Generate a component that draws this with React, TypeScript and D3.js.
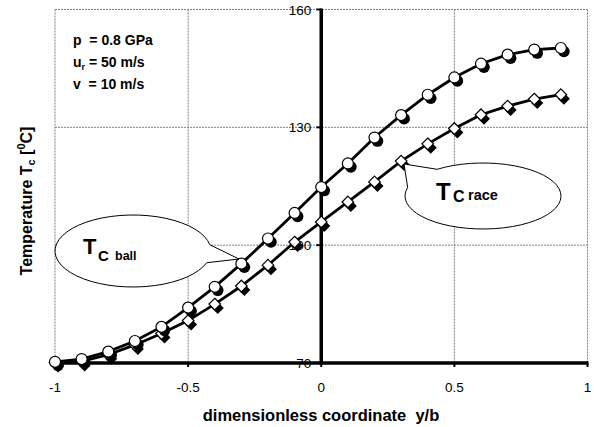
import * as React from 'react'
import * as d3 from 'd3'

const width = 594
const height = 427
const font = "'Liberation Sans', Arial, sans-serif"

// dimensionless coordinate y/b
const coords = [-1, -0.9, -0.8, -0.7, -0.6, -0.5, -0.4, -0.3, -0.2, -0.1, 0, 0.1, 0.2, 0.3, 0.4, 0.5, 0.6, 0.7, 0.8, 0.9]
// temperature of the ball
const tBall = [70.3, 71.0, 72.9, 75.6, 79.2, 84.1, 89.4, 95.3, 101.7, 108.2, 114.8, 120.8, 127.4, 133.1, 138.3, 142.7, 146.2, 148.5, 149.8, 150.2]
// temperature of the race
const tRace = [70.1, 70.4, 72.1, 74.6, 77.5, 80.8, 85.0, 89.6, 94.9, 100.8, 105.9, 111.0, 116.1, 121.4, 125.8, 129.7, 133.2, 135.4, 137.2, 138.3]

const xTicks = [-1, -0.5, 0, 0.5, 1]
const yTicks = [70, 100, 130, 160]

const xScale = d3.scaleLinear().domain([-1, 1]).range([55, 587.5])
const yScale = d3.scaleLinear().domain([70, 160]).range([363, 9.5])

const line = d3
  .line<number>()
  .x((_, i) => xScale(coords[i]))
  .y(d => yScale(d))

const diamond = (s: number) => `M0,${-s}L${s},0L0,${s}L${-s},0Z`

// callout: ellipse with a wedge pointing at tip
const callout = (cx: number, cy: number, rx: number, ry: number, a1: number, a2: number, tip: [number, number]) => {
  const p = (a: number) => [cx + rx * Math.cos((a * Math.PI) / 180), cy + ry * Math.sin((a * Math.PI) / 180)]
  const A = p(a1)
  const B = p(a2)
  return `M${A[0]},${A[1]}A${rx},${ry} 0 1 1 ${B[0]},${B[1]}L${tip[0]},${tip[1]}Z`
}

const Markers = ({ values, kind }: { values: number[]; kind: 'circle' | 'diamond' }) => (
  <g>
    {values.map((v, i) => {
      const x = xScale(coords[i])
      const y = yScale(v)
      return kind === 'circle' ? (
        <g key={i}>
          <circle cx={x + 3} cy={y + 3.5} r={5.8} fill="#000" />
          <circle cx={x} cy={y} r={5.5} fill="#fff" stroke="#000" strokeWidth={1.2} />
        </g>
      ) : (
        <g key={i}>
          <path d={diamond(6)} transform={`translate(${x + 3},${y + 4})`} fill="#000" />
          <path d={diamond(5.8)} transform={`translate(${x},${y})`} fill="#fff" stroke="#000" strokeWidth={1.2} />
        </g>
      )
    })}
  </g>
)

const App = () => {
  const x0 = xScale(0)
  const yBase = yScale(70)
  return (
    <svg width={width} height={height} style={{ position: 'absolute', left: 0, top: 0, background: '#fff' }} fontFamily={font}>
      <rect width={width} height={height} fill="#fff" />
      {/* grid */}
      <g stroke="#808080" strokeWidth={1} strokeDasharray="2,1">
        {xTicks.filter(t => t !== 0).map(t => (
          <line key={t} x1={xScale(t)} x2={xScale(t)} y1={yScale(160)} y2={yBase} />
        ))}
        {yTicks.filter(t => t !== 70).map(t => (
          <line key={t} x1={xScale(-1)} x2={xScale(1)} y1={yScale(t)} y2={yScale(t)} />
        ))}
      </g>
      {/* axes */}
      <line x1={xScale(-1)} x2={xScale(1) + 1} y1={yBase} y2={yBase} stroke="#000" strokeWidth={3.5} />
      <line x1={x0} x2={x0} y1={yScale(160) - 1} y2={yBase + 2} stroke="#000" strokeWidth={3.5} />
      {xTicks.map(t => (
        <line key={t} x1={xScale(t)} x2={xScale(t)} y1={yBase} y2={yBase + 4} stroke="#000" strokeWidth={2} />
      ))}
      {yTicks.map(t => (
        <line key={t} x1={x0 - 5} x2={x0} y1={yScale(t)} y2={yScale(t)} stroke="#000" strokeWidth={2} />
      ))}
      {/* tick labels */}
      <g fontSize={13.5} fill="#000">
        {xTicks.map(t => (
          <text key={t} x={xScale(t)} y={392} textAnchor="middle">
            {String(t)}
          </text>
        ))}
        {yTicks.map(t => (
          <text key={t} x={x0 - 10} y={yScale(t) + 5} textAnchor="end">
            {t}
          </text>
        ))}
      </g>
      {/* series */}
      <path d={line(tRace) ?? ''} fill="none" stroke="#000" strokeWidth={2.8} />
      <Markers values={tRace} kind="diamond" />
      <path d={line(tBall) ?? ''} fill="none" stroke="#000" strokeWidth={2.8} />
      <Markers values={tBall} kind="circle" />
      {/* callouts */}
      <path d={callout(133, 251, 78, 36, 19, 350, [239, 259])} fill="#fff" stroke="#000" strokeWidth={1} />
      <text x={83} y={254} fontWeight="bold" fontSize={22}>T</text>
      <text x={98} y={260.5} fontWeight="bold" fontSize={15}>C</text>
      <text x={115} y={259.5} fontWeight="bold" fontSize={12.5}>ball</text>
      <path d={callout(483, 196, 78, 33, -126, -165, [404, 164])} fill="#fff" stroke="#000" strokeWidth={1} />
      <text x={436} y={200} fontWeight="bold" fontSize={24}>T</text>
      <text x={453} y={201.5} fontWeight="bold" fontSize={16}>C</text>
      <text x={468} y={200} fontWeight="bold" fontSize={14.5}>race</text>
      {/* parameters */}
      <g fontWeight="bold" fontSize={14}>
        <text x={73} y={45} xmlSpace="preserve">p  = 0.8 GPa</text>
        <text x={73} y={67}>
          u<tspan fontSize={9} dy={3}>r</tspan>
          <tspan dy={-3}> = 50 m/s</tspan>
        </text>
        <text x={73} y={89} xmlSpace="preserve">v  = 10 m/s</text>
      </g>
      {/* axis titles */}
      <text x={321} y={421} textAnchor="middle" fontWeight="bold" fontSize={16.5} xmlSpace="preserve">
        dimensionless coordinate  y/b
      </text>
      <text transform="translate(32,201) rotate(-90)" textAnchor="middle" fontWeight="bold" fontSize={16}>
        Temperature T<tspan fontSize={11} dy={3}>c</tspan>
        <tspan dy={-3}> [</tspan>
        <tspan fontSize={11} dy={-7}>0</tspan>
        <tspan dy={7}>C]</tspan>
      </text>
    </svg>
  )
}

export default App
